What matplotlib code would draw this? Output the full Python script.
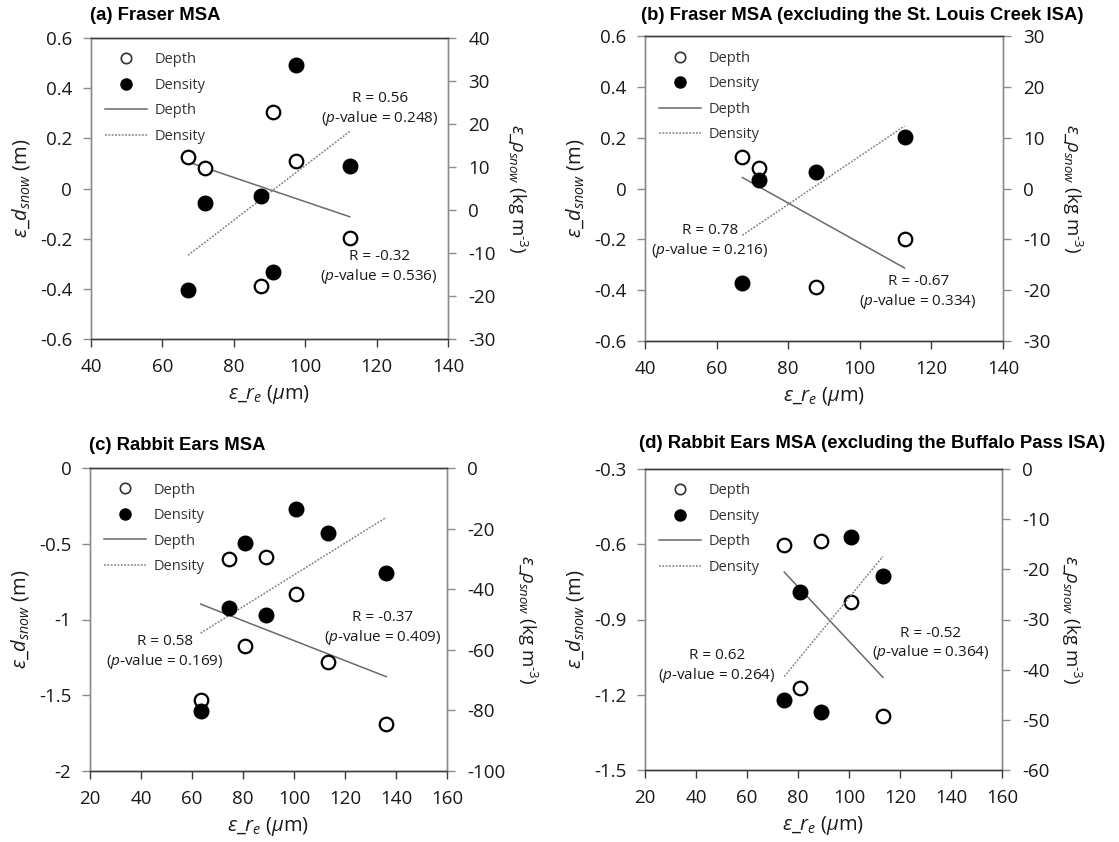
import numpy as np
import matplotlib
matplotlib.use("Agg")
import matplotlib.pyplot as plt
from matplotlib.ticker import FuncFormatter
from matplotlib.lines import Line2D

plt.rcParams['font.family'] = ['Open Sans', 'DejaVu Sans']
plt.rcParams['mathtext.fontset'] = 'custom'
plt.rcParams['mathtext.rm'] = 'Open Sans'
plt.rcParams['mathtext.it'] = 'Open Sans:italic'
plt.rcParams['mathtext.bf'] = 'Open Sans:bold'

# ---------------- data ----------------
# Fraser MSA (per site/date)
fraser_re = [67.2, 71.8, 87.7, 90.9, 97.5, 112.5]
fraser_depth = [0.124, 0.082, -0.388, 0.305, 0.109, -0.198]
fraser_density = [-18.5, 1.7, 3.2, -14.4, 33.8, 10.2]
fraser_excl_idx = [0, 1, 2, 5]          # excluding St. Louis Creek ISA

# Rabbit Ears MSA
rabbit_re = [63.4, 74.6, 80.6, 89.0, 100.7, 113.3, 136.2]
rabbit_depth = [-1.533, -0.603, -1.175, -0.586, -0.831, -1.283, -1.687]
rabbit_density = [-80.3, -46.1, -24.6, -48.5, -13.6, -21.3, -34.7]
rabbit_excl_idx = [1, 2, 3, 4, 5]       # excluding Buffalo Pass ISA

titles = ["(a) Fraser MSA",
          "(b) Fraser MSA (excluding the St. Louis Creek ISA)",
          "(c) Rabbit Ears MSA",
          "(d) Rabbit Ears MSA (excluding the Buffalo Pass ISA)"]

r_depth_text = ["R = -0.32", "R = -0.67", "R = -0.37", "R = -0.52"]
p_depth_text = ["0.536", "0.334", "0.409", "0.364"]
r_dens_text = ["R = 0.56", "R = 0.78", "R = 0.58", "R = 0.62"]
p_dens_text = ["0.248", "0.216", "0.169", "0.264"]

x_ticks = [np.arange(40, 141, 20), np.arange(40, 141, 20),
           np.arange(20, 161, 20), np.arange(20, 161, 20)]
yl_ticks = [np.linspace(-0.6, 0.6, 7), np.linspace(-0.6, 0.6, 7),
            np.linspace(-2, 0, 5), np.linspace(-1.5, -0.3, 5)]
yr_ticks = [np.arange(-30, 41, 10), np.arange(-30, 31, 10),
            np.arange(-100, 1, 20), np.arange(-60, 1, 10)]

# ---------------- layout ----------------
W, H = 1119, 842
fig = plt.figure(figsize=(W / 100, H / 100), dpi=100)
fig.patch.set_facecolor('white')

# axes boxes in pixels: left, top, right, bottom
boxes = [(91, 38, 448, 339), (645, 36, 1003, 341),
         (90, 468, 447, 771), (645, 469, 1002, 770)]
title_pos = [(90, 16), (641, 16), (89, 446), (639, 444)]
# annotation positions in axes fraction (dens, depth)
dens_pos = [(0.810, 0.762), (0.182, 0.326), (0.210, 0.391), (0.202, 0.344)]
depth_pos = [(0.807, 0.237), (0.763, 0.159), (0.820, 0.470), (0.800, 0.419)]

datasets = [
    (fraser_re, fraser_depth, fraser_density, list(range(len(fraser_re)))),
    (fraser_re, fraser_depth, fraser_density, fraser_excl_idx),
    (rabbit_re, rabbit_depth, rabbit_density, list(range(len(rabbit_re)))),
    (rabbit_re, rabbit_depth, rabbit_density, rabbit_excl_idx),
]

fmt = FuncFormatter(lambda v, p: ('%g' % round(v, 6)).replace('\u2212', '-'))
SPINE_V = '#8c8c8c'
SPINE_H = '#3c3c3c'
LINE_C = '#6a6a6a'
DOT_C = '#808080'
TXT = '#1a1a1a'

for i, (box, (re_all, dep_all, den_all, idx)) in enumerate(zip(boxes, datasets)):
    l, t, r, b = box
    ax = fig.add_axes([l / W, 1 - b / H, (r - l) / W, (b - t) / H])
    ax2 = ax.twinx()

    x = np.array([re_all[k] for k in idx])
    yd = np.array([dep_all[k] for k in idx])
    yn = np.array([den_all[k] for k in idx])

    # regression lines
    xl = np.array([x.min(), x.max()])
    cd = np.polyfit(x, yd, 1)
    cn = np.polyfit(x, yn, 1)
    ax.plot(xl, np.polyval(cd, xl), color=LINE_C, lw=1.1, zorder=2)
    ax2.plot(xl, np.polyval(cn, xl), color=DOT_C, lw=1.1,
             linestyle=(0, (1.2, 1.0)), zorder=2)

    ax.scatter(x, yd, s=95, facecolor='white', edgecolor='black',
               linewidths=1.6, zorder=3)
    ax2.scatter(x, yn, s=110, facecolor='black', edgecolor='black',
                linewidths=1.0, zorder=3)

    ax.set_xlim(x_ticks[i][0], x_ticks[i][-1])
    ax.set_xticks(x_ticks[i])
    ax.set_ylim(yl_ticks[i][0], yl_ticks[i][-1])
    ax.set_yticks(yl_ticks[i])
    ax2.set_ylim(yr_ticks[i][0], yr_ticks[i][-1])
    ax2.set_yticks(yr_ticks[i])
    for a in (ax, ax2):
        a.xaxis.set_major_formatter(fmt)
        a.yaxis.set_major_formatter(fmt)
        a.tick_params(labelsize=13.5, colors=TXT, length=5.5, width=1,
                      direction='out')
        a.tick_params(axis='y', color=SPINE_V)
        a.tick_params(axis='x', color=SPINE_H, pad=8.5)
        a.spines['left'].set_color(SPINE_V)
        a.spines['right'].set_color(SPINE_V)
        a.spines['top'].set_color(SPINE_H)
        a.spines['bottom'].set_color(SPINE_H)
        for s in a.spines.values():
            s.set_linewidth(1.0)
    ax.tick_params(axis='y', pad=8)
    ax2.tick_params(axis='y', pad=9)

    ax.set_xlabel(r'$\varepsilon\_r_e$ ($\mu$m)', fontsize=14.5, color=TXT,
                  labelpad=5)
    ax.set_ylabel(r'$\varepsilon\_d_{snow}$ (m)', fontsize=14.5, color=TXT,
                  labelpad=6)
    ax2.set_ylabel(r'$\varepsilon\_\rho_{snow}$ (kg m$^{\text{-3}}$)', fontsize=13.5,
                   color=TXT, rotation=270, labelpad=24)

    # annotations
    ax.text(*dens_pos[i], r_dens_text[i] + '\n($p$-value = ' + p_dens_text[i] + ')',
            transform=ax.transAxes, ha='center', va='center', fontsize=11,
            color=TXT, linespacing=1.2, zorder=5)
    ax.text(*depth_pos[i], r_depth_text[i] + '\n($p$-value = ' + p_depth_text[i] + ')',
            transform=ax.transAxes, ha='center', va='center', fontsize=11,
            color=TXT, linespacing=1.2, zorder=5)

    # legend
    handles = [
        Line2D([], [], linestyle='none', marker='o', markersize=7.5,
               markerfacecolor='white', markeredgecolor='#333333', markeredgewidth=1.2),
        Line2D([], [], linestyle='none', marker='o', markersize=8,
               markerfacecolor='black', markeredgecolor='black'),
        Line2D([], [], color=LINE_C, lw=1.1),
        Line2D([], [], color=DOT_C, lw=1.1, linestyle=(0, (1.2, 1.0))),
    ]
    labels = ['Depth', 'Density', 'Depth', 'Density']
    leg = ax2.legend(handles, labels, loc='upper left',
                     bbox_to_anchor=(0.039, 0.952), frameon=False,
                     fontsize=10.5, handlelength=2.9, handletextpad=0.48,
                     labelspacing=0.72, borderpad=0, borderaxespad=0)
    for txt in leg.get_texts():
        txt.set_color('#333333')

    tx, ty = title_pos[i]
    fig.text(tx / W, 1 - ty / H, titles[i], fontsize=13.3, fontweight='bold',
             family='Liberation Sans', ha='left', va='center', color='black')

fig.savefig('out.png', dpi=100)
